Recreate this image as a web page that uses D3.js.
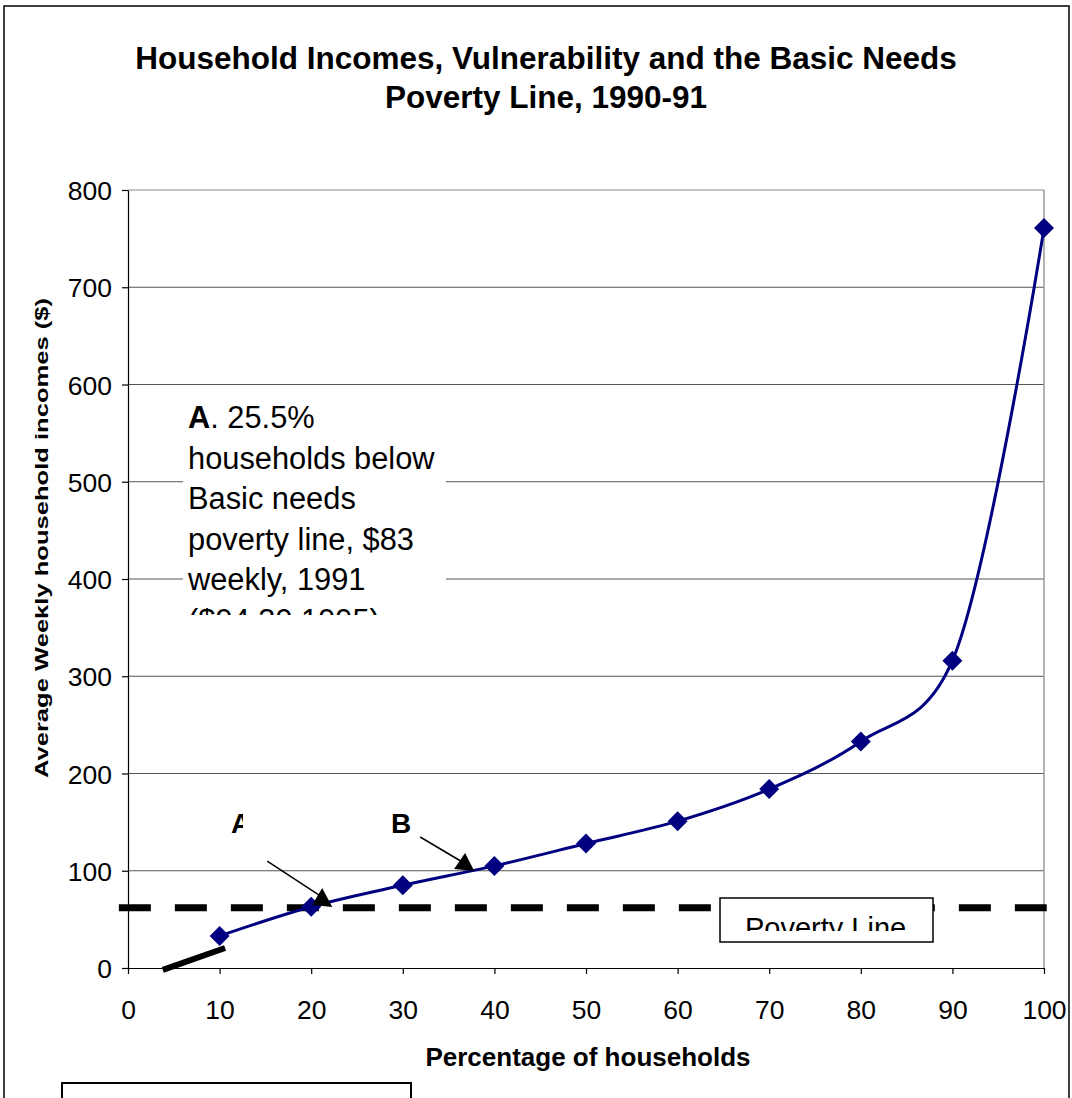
<!DOCTYPE html>
<html>
<head>
<meta charset="utf-8">
<script src="https://cdn.jsdelivr.net/npm/d3@7"></script>
<style>
  body { margin: 0; background: #fff; }
  text { font-family: "Liberation Sans", Arial, sans-serif; }
</style>
</head>
<body>
<script>
// Chart data
var pct = [10, 20, 30, 40, 50, 60, 70, 80, 90, 100];
var income = [33, 63, 85, 105, 128, 151, 184, 233, 316, 761];
var povertyLine = 62;
var xTicks = [0, 10, 20, 30, 40, 50, 60, 70, 80, 90, 100];
var yTicks = [0, 100, 200, 300, 400, 500, 600, 700, 800];
var noteLines = ["25.5%", "households below", "Basic needs", "poverty line, $83", "weekly, 1991", "($94.30 1995)"];

var width = 1072, height = 1098;
var plot = { left: 128, right: 1044, top: 190, bottom: 968 };

var svg = d3.select("body").append("svg")
  .attr("width", width)
  .attr("height", height);

var x = d3.scaleLinear().domain([0, 100]).range([plot.left, plot.right]);
var y = d3.scaleLinear().domain([0, 800]).range([plot.bottom, plot.top]);

// outer chart frame
svg.append("rect")
  .attr("x", 4).attr("y", 6).attr("width", 1065).attr("height", 1110)
  .attr("fill", "none").attr("stroke", "#000").attr("stroke-width", 1.5);

// title
svg.append("text")
  .attr("x", 546).attr("y", 69)
  .attr("text-anchor", "middle")
  .attr("font-size", 31.5).attr("font-weight", "bold")
  .text("Household Incomes, Vulnerability and the Basic Needs");
svg.append("text")
  .attr("x", 546).attr("y", 108)
  .attr("text-anchor", "middle")
  .attr("font-size", 31.5).attr("font-weight", "bold")
  .text("Poverty Line, 1990-91");

// gridlines
svg.append("g")
  .selectAll("line")
  .data(yTicks.filter(function(d) { return d > 0; })).enter()
  .append("line")
    .attr("x1", plot.left).attr("x2", plot.right)
    .attr("y1", function(d) { return y(d); })
    .attr("y2", function(d) { return y(d); })
    .attr("stroke", function(d) { return d === 800 ? "#888" : "#555"; })
    .attr("stroke-width", 1.2);

// right border of plot area
svg.append("line")
  .attr("x1", plot.right).attr("x2", plot.right)
  .attr("y1", plot.top).attr("y2", plot.bottom)
  .attr("stroke", "#999").attr("stroke-width", 1.5);

// axes
var xAxis = svg.append("g")
  .attr("transform", "translate(0," + plot.bottom + ")")
  .call(d3.axisBottom(x).tickValues(xTicks).tickSize(6).tickPadding(26).tickSizeOuter(0));
var yAxis = svg.append("g")
  .attr("transform", "translate(" + plot.left + ",0)")
  .call(d3.axisLeft(y).tickValues(yTicks).tickSize(6).tickPadding(10).tickSizeOuter(0));
[xAxis, yAxis].forEach(function(g) {
  g.select(".domain").attr("stroke", "#000").attr("stroke-width", 1.2);
  g.selectAll(".tick line").attr("stroke", "#000").attr("stroke-width", 1.2);
  g.selectAll(".tick text")
    .attr("font-family", "Liberation Sans, Arial, sans-serif")
    .attr("font-size", 26.5).attr("fill", "#000");
});
yAxis.selectAll(".tick text").attr("dy", "0.36em");

// axis titles
svg.append("text")
  .attr("x", 588).attr("y", 1066)
  .attr("text-anchor", "middle")
  .attr("font-size", 26).attr("font-weight", "bold")
  .text("Percentage of households");
svg.append("text")
  .attr("transform", "translate(48,538) rotate(-90)")
  .attr("text-anchor", "middle")
  .attr("font-size", 19).attr("font-weight", "bold")
  .attr("textLength", 480).attr("lengthAdjust", "spacingAndGlyphs")
  .text("Average Weekly household incomes ($)");

// annotation box A (white, text clipped at bottom)
svg.append("clipPath").attr("id", "clipA")
  .append("rect").attr("x", 183).attr("y", 395).attr("width", 263).attr("height", 220);
svg.append("rect")
  .attr("x", 183).attr("y", 395).attr("width", 263).attr("height", 220)
  .attr("fill", "#fff");
var note = svg.append("text")
  .attr("clip-path", "url(#clipA)")
  .attr("font-size", 30.8);
noteLines.forEach(function(t, i) {
  var ts = note.append("tspan").attr("x", 188).attr("y", 428 + i * 40.5);
  if (i === 0) {
    ts.append("tspan").attr("font-weight", "bold").text("A");
    ts.append("tspan").text(". " + t);
  } else {
    ts.text(t);
  }
});

// poverty line (thick dashed)
svg.append("line")
  .attr("x1", x(-1.0)).attr("x2", x(100.3))
  .attr("y1", y(povertyLine)).attr("y2", y(povertyLine))
  .attr("stroke", "#000").attr("stroke-width", 7)
  .attr("stroke-dasharray", "32,24");

// thick drawn segment near origin
svg.append("line")
  .attr("x1", x(3.8)).attr("y1", y(-2))
  .attr("x2", x(10.6)).attr("y2", y(20.6))
  .attr("stroke", "#000").attr("stroke-width", 6);

// series line (smoothed, like the spreadsheet's smoothed line)
var line = d3.line()
  .x(function(d, i) { return x(pct[i]); })
  .y(function(d) { return y(d); })
  .curve(d3.curveCatmullRom.alpha(0.2));
svg.append("path")
  .datum(income)
  .attr("d", line)
  .attr("fill", "none")
  .attr("stroke", "#000080")
  .attr("stroke-width", 3);

svg.append("g")
  .selectAll("path")
  .data(income).enter()
  .append("path")
    .attr("transform", function(d, i) { return "translate(" + x(pct[i]) + "," + y(d) + ")"; })
    .attr("d", "M0,-10L10,0L0,10L-10,0Z")
    .attr("fill", "#000080");

// arrows A and B
var arrows = [
  { from: [15.2, 110], to: [21.2, 73], head: [[21.2, 82.3], [20.1, 64.8], [22.3, 62.7]] },
  { from: [31.9, 134.7], to: [36.5, 109], head: [[36.8, 118.3], [35.6, 101.8], [37.8, 99.7]] }
];
arrows.forEach(function(a) {
  svg.append("line")
    .attr("x1", x(a.from[0])).attr("y1", y(a.from[1]))
    .attr("x2", x(a.to[0])).attr("y2", y(a.to[1]))
    .attr("stroke", "#000").attr("stroke-width", 1.5);
  svg.append("polygon")
    .attr("points", a.head.map(function(p) { return x(p[0]) + "," + y(p[1]); }).join(" "))
    .attr("fill", "#000");
});

// labels A (clipped) and B
svg.append("clipPath").attr("id", "clipLabelA")
  .append("rect").attr("x", 200).attr("y", 800).attr("width", 43).attr("height", 50);
svg.append("text")
  .attr("clip-path", "url(#clipLabelA)")
  .attr("x", 231).attr("y", 833)
  .attr("font-size", 28).attr("font-weight", "bold")
  .text("A");
svg.append("text")
  .attr("x", 391).attr("y", 833)
  .attr("font-size", 28).attr("font-weight", "bold")
  .text("B");

// Poverty Line label box
svg.append("clipPath").attr("id", "clipPov")
  .append("rect").attr("x", 721).attr("y", 899).attr("width", 211).attr("height", 32);
svg.append("rect")
  .attr("x", 720).attr("y", 898).attr("width", 213).attr("height", 44)
  .attr("fill", "#fff").attr("stroke", "#000").attr("stroke-width", 1.5);
svg.append("text")
  .attr("clip-path", "url(#clipPov)")
  .attr("x", 745).attr("y", 938)
  .attr("font-family", "Liberation Serif, Times New Roman, serif")
  .attr("font-size", 29)
  .text("Poverty Line");

// empty text box at bottom (cut off)
svg.append("rect")
  .attr("x", 62).attr("y", 1083).attr("width", 349).attr("height", 30)
  .attr("fill", "#fff").attr("stroke", "#000").attr("stroke-width", 2);
</script>
</body>
</html>
